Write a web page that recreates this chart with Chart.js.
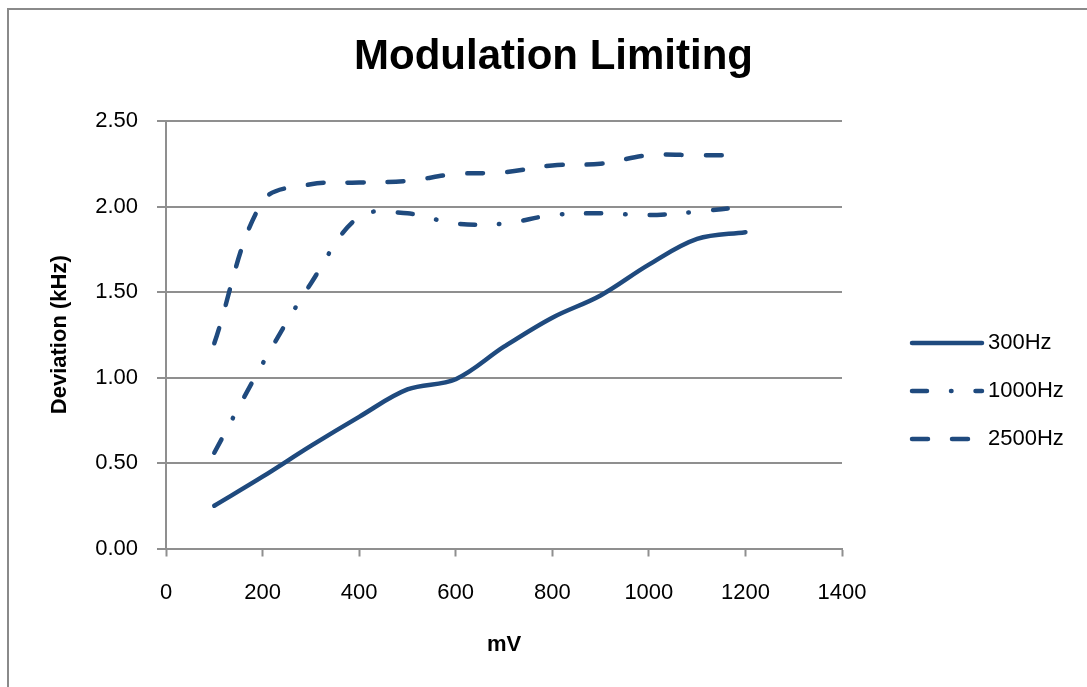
<!DOCTYPE html>
<html lang="en">

<head>
    <meta charset="UTF-8">
    <title>Modulation Limiting</title>
    <script src="https://cdn.jsdelivr.net/npm/chart.js"></script>
    <style>
        body { margin: 0; background: #fff; overflow: hidden; }
        #frame {
            position: absolute; left: 7px; top: 8px; width: 1200px; height: 800px;
            border-left: 2px solid #8a8a8a; border-top: 2px solid #8a8a8a;
        }
        #myChart { position: absolute; left: 0; top: 0; }
    </style>
</head>

<body>
    <div id="frame"></div>
    <canvas id="myChart" width="1087" height="687"></canvas>

    <script>
        // input level (mV)
        const levels = [100, 200, 300, 400, 500, 600, 700, 800, 900, 1000, 1100, 1200];
        // deviation (kHz) per tone
        const dev300 = [0.25, 0.42, 0.60, 0.77, 0.93, 0.99, 1.18, 1.35, 1.48, 1.66, 1.81, 1.85];
        const dev1000 = [0.56, 1.08, 1.55, 1.94, 1.96, 1.90, 1.90, 1.95, 1.96, 1.95, 1.97, 2.00];
        const dev2500 = [1.20, 2.03, 2.13, 2.14, 2.15, 2.19, 2.20, 2.24, 2.25, 2.30, 2.30, 2.30];
        const seriesNames = ['300Hz', '1000Hz', '2500Hz'];

        const xTicks = [0, 200, 400, 600, 800, 1000, 1200, 1400];
        const yTicks = [0, 0.5, 1.0, 1.5, 2.0, 2.5];

        const navy = '#1f4a7e';
        const gridGray = '#8f8f8f';
        const fontName = "'Liberation Sans', Arial, sans-serif";

        function points(ys) {
            return levels.map((x, i) => ({ x: x, y: ys[i] }));
        }

        function lineSet(label, ys, dash) {
            return {
                label: label,
                data: points(ys),
                borderColor: navy,
                backgroundColor: navy,
                borderWidth: 4.5,
                borderDash: dash,
                borderCapStyle: 'round',
                borderJoinStyle: 'round',
                pointRadius: 0,
                tension: 0.35,
                fill: false,
                yAxisID: 'y'
            };
        }

        const data = {
            datasets: [
                lineSet(seriesNames[0], dev300, []),
                lineSet(seriesNames[1], dev1000, [15, 24, 0.5, 24]),
                lineSet(seriesNames[2], dev2500, [16, 24])
            ]
        };

        // excel style legend: a 70px line sample then the name
        const sideLegend = {
            id: 'side_legend',
            afterDraw: (chart) => {
                const ctx = chart.ctx;
                const left = chart.chartArea.right + 70;
                ctx.save();
                chart.data.datasets.forEach((ds, i) => {
                    const y = 343 + i * 48;
                    ctx.beginPath();
                    ctx.lineWidth = ds.borderWidth;
                    ctx.strokeStyle = ds.borderColor;
                    ctx.lineCap = 'round';
                    ctx.setLineDash(ds.borderDash);
                    ctx.moveTo(left, y);
                    ctx.lineTo(left + 70, y);
                    ctx.stroke();
                    ctx.setLineDash([]);
                    ctx.fillStyle = '#000';
                    ctx.font = '22px ' + fontName;
                    ctx.textBaseline = 'middle';
                    ctx.fillText(ds.label, left + 76, y);
                });
                ctx.restore();
            }
        };

        const config = {
            type: 'line',
            data: data,
            options: {
                responsive: false,
                animation: false,
                layout: {
                    padding: { left: 20, right: 0, top: 0, bottom: 23.5 }
                },
                plugins: {
                    legend: { display: false },
                    tooltip: { enabled: false },
                    title: {
                        display: true,
                        text: 'Modulation Limiting',
                        color: '#000',
                        font: { family: fontName, size: 42, weight: 'bold', lineHeight: 1.2 },
                        padding: { top: 32, bottom: 38.6 }
                    }
                },
                scales: {
                    x: {
                        type: 'linear',
                        min: 0,
                        max: 1400,
                        afterBuildTicks: (scale) => {
                            scale.ticks = xTicks.map(v => ({ value: v }));
                        },
                        afterFit: (scale) => { scale.height = 115; },
                        grid: {
                            drawOnChartArea: false,
                            drawTicks: true,
                            tickLength: 8,
                            tickWidth: 2,
                            tickColor: gridGray
                        },
                        border: { display: true, color: gridGray, width: 2 },
                        ticks: {
                            color: '#000',
                            padding: 23,
                            maxRotation: 0,
                            font: { family: fontName, size: 22 },
                            callback: (v) => String(v)
                        },
                        title: {
                            display: true,
                            text: 'mV',
                            color: '#000',
                            font: { family: fontName, size: 22, weight: 'bold' },
                            padding: { top: 0, bottom: 5.3 }
                        }
                    },
                    y: {
                        min: 0,
                        max: 2.5,
                        afterBuildTicks: (scale) => {
                            scale.ticks = yTicks.map(v => ({ value: v }));
                        },
                        afterFit: (scale) => { scale.width = 146; },
                        grid: {
                            color: gridGray,
                            lineWidth: 2,
                            drawTicks: true,
                            tickLength: 9,
                            tickColor: gridGray
                        },
                        border: { display: true, color: gridGray, width: 2 },
                        ticks: {
                            color: '#000',
                            padding: 19,
                            font: { family: fontName, size: 22 },
                            callback: (v) => Number(v).toFixed(2)
                        },
                        title: {
                            display: true,
                            text: 'Deviation (kHz)',
                            color: '#000',
                            font: { family: fontName, size: 22, weight: 'bold' },
                            padding: { top: 27, bottom: 0 }
                        }
                    },
                    // empty right-hand band that holds the legend
                    legendSpace: {
                        type: 'linear',
                        position: 'right',
                        display: true,
                        grid: { display: false, drawTicks: false },
                        border: { display: false },
                        ticks: { display: false },
                        afterFit: (scale) => { scale.width = 245; }
                    }
                }
            },
            plugins: [sideLegend]
        };

        var chart = new Chart(
            document.getElementById('myChart'),
            config
        );
    </script>
</body>

</html>
